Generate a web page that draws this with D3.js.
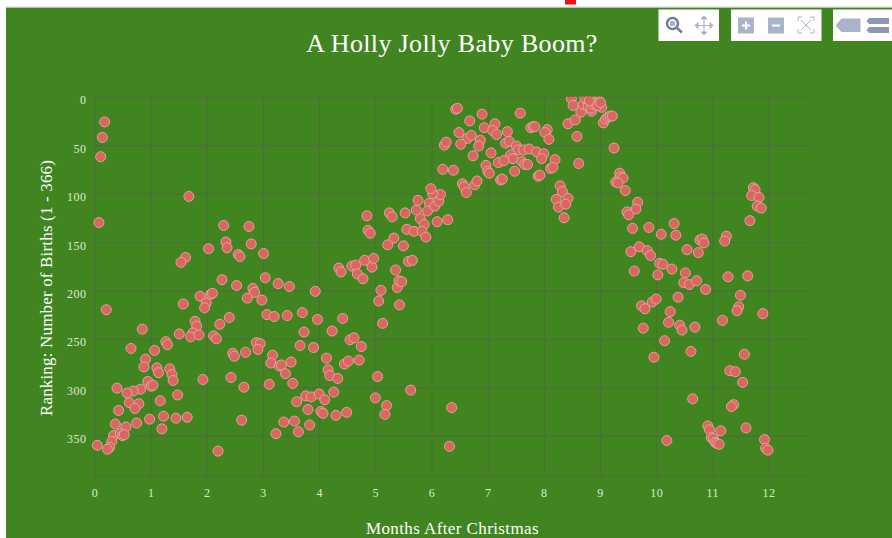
<!DOCTYPE html>
<html>
<head>
<meta charset="utf-8">
<script src="https://cdn.jsdelivr.net/npm/d3@7"></script>
<style>
	html, body { margin: 0; padding: 0; background: #fff; overflow: hidden; }
	text { font-family: "Liberation Serif", serif; }
</style>
</head>
<body>
<div id="chart"></div>
<script>
	var width = 892;
	var height = 538;

	var chartTitle = "A Holly Jolly Baby Boom?";
	var xTitle = "Months After Christmas";
	var yTitle = "Ranking: Number of Births (1 - 366)";

	var xTicks = [0,1,2,3,4,5,6,7,8,9,10,11,12];
	var yTicks = [0,50,100,150,200,250,300,350];

	// same order in both arrays
	var months = [
		.18,.14,.11,.08,1.68,2.30,2.75,2.34,2.36,2.79,2.03,2.56,2.59,3.01,1.62,1.54,2.27,2.53,3.04,3.27,
		3.47,2.82,2.85,2.72,2.98,1.88,2.07,2.10,1.99,1.96,1.58,.21,3.07,3.20,3.43,3.70,2.40,2.23,1.79,1.82,
		.85,1.75,1.71,1.86,1.51,2.12,2.17,1.27,1.30,.65,1.07,2.88,2.95,2.91,2.69,2.46,2.49,3.17,3.14,3.29,
		3.33,3.50,3.40,.91,.88,1.11,1.14,1.34,1.38,1.40,1.93,2.43,.95,1.01,1.04,.82,.69,.58,.40,1.48,
		2.66,3.11,3.53,1.17,.62,.79,.72,.43,3.60,1.45,1.65,1.23,.98,2.62,.37,.75,.56,1.20,3.37,3.56,
		3.23,3.63,.34,.46,.50,.53,.31,.27,.23,.05,2.20,
		3.93,4.35,4.39,4.58,4.65,4.68,4.78,4.94,4.81,5.36,5.10,5.06,5.39,5.42,5.43,3.97,4.42,5.13,3.73,4.23,
		3.66,3.90,4.55,4.62,4.75,4.13,4.45,4.52,4.71,4.16,4.19,4.33,5.04,3.76,3.86,4.00,4.10,4.26,5.00,5.20,
		5.17,3.80,4.03,4.07,4.30,4.49,3.83,5.63,6.36,6.32,
		4.85,4.87,4.91,5.25,5.30,5.53,5.73,5.76,5.96,5.93,6.06,6.13,6.16,6.02,5.99,5.80,5.87,5.56,5.69,5.83,
		5.90,6.10,6.29,5.33,5.22,5.50,5.59,5.66,4.97,5.47,
		6.43,6.46,6.90,7.58,6.68,7.13,6.94,7.09,7.16,6.49,7.35,7.77,7.81,7.84,8.06,8.02,8.09,8.43,6.64,6.71,
		6.87,6.84,6.52,6.23,6.26,6.74,7.06,7.32,7.38,7.51,7.54,7.64,7.74,7.87,8.00,7.96,7.41,7.45,7.61,7.66,
		7.71,7.19,7.29,8.20,8.12,8.16,7.48,6.20,6.39,6.97,7.00,7.03,7.23,7.26,7.90,7.93,6.55,6.58,6.62,6.77,
		6.81,8.29,8.33,8.22,8.26,8.43,8.39,8.36,
		8.49,8.52,8.66,8.56,8.59,8.70,8.76,8.79,8.85,8.84,8.88,8.94,8.98,9.03,8.92,9.06,9.10,9.14,9.18,9.22,
		9.25,8.62,8.73,8.81,8.96,9.01,
		9.35,9.36,9.41,9.28,9.32,9.45,9.67,9.64,9.48,9.51,9.58,9.87,10.09,10.32,10.35,10.78,10.82,10.85,11.25,11.22,
		10.55,10.75,11.73,11.76,11.70,11.83,11.80,11.87,11.67,9.55,9.70,9.84,9.90,10.06,10.12,10.28,9.61,10.03,10.52,11.28,
		11.63,10.49,10.59,10.72,10.88,11.50,10.39,9.74,9.80,9.93,10.00,11.47,11.44,11.90,10.25,11.18,10.22,10.42,10.46,10.69,
		9.77,10.15,10.62,11.57,9.96,11.31,11.41,11.54,10.65,11.38,11.34,10.92,10.95,11.15,11.60,10.19,10.98,11.02,11.05,11.08,
		11.12,11.93,11.95,11.99
	];
	var ranks = [
		26,42,62,130,103,133,134,150,156,152,157,163,165,162,166,171,189,195,187,193,
		196,198,202,208,210,206,204,203,213,218,214,220,225,227,226,223,228,235,232,237,
		240,244,248,246,245,247,250,253,256,260,262,254,255,261,264,265,268,267,275,278,
		277,274,286,271,279,280,285,281,287,293,292,290,294,299,298,302,304,306,301,308,
		300,297,296,314,316,317,322,324,315,332,331,330,333,334,338,337,341,343,336,335,
		348,346,350,348,350,349,356,362,364,360,366,
		201,177,181,175,174,183,188,176,169,179,200,211,197,190,215,230,229,234,243,242,
		257,259,251,249,258,270,276,273,272,282,288,291,289,309,310,307,313,305,311,319,
		328,323,325,327,329,326,339,303,321,361,
		123,138,141,120,124,120,117,107,110,118,113,108,101,100,95,126,132,137,139,139,
		145,129,127,146,153,154,170,169,167,191,
		13,12,18,17,25,28,32,35,39,37,36,32,31,31,34,37,44,28,43,40,
		45,51,49,50,47,61,58,48,46,51,55,55,54,57,59,64,60,64,67,70,
		70,68,66,65,74,73,77,75,76,71,77,79,86,85,82,81,90,93,99,91,
		87,92,98,106,114,105,111,125,
		2,9,16,24,41,8,3,10,15,12,8,4,4,11,7,27,23,21,20,20,
		53,69,1,4,9,6,
		79,83,84,88,89,97,109,116,119,122,136,135,142,131,143,148,147,151,144,149,
		158,161,94,96,102,104,113,115,128,160,155,159,164,172,173,178,180,184,182,186,
		185,192,194,190,199,205,207,216,219,212,209,217,221,224,222,231,233,236,241,238,
		239,252,263,266,269,283,284,295,312,318,320,340,344,345,342,355,352,353,357,358,
		359,354,363,365
	];

	var margin = {left: 94.5, right: 809.5, top: 96.7, bottom: 476.3};

	var xScale = d3.scaleLinear().domain([0, 12.73]).range([margin.left, margin.right]);
	var yScale = d3.scaleLinear().domain([0, 392]).range([margin.top, margin.bottom]);

	var svg = d3.select("#chart")
		.append("svg")
		.attr("width", width)
		.attr("height", height)
		.style("display", "block");

	svg.append("rect")
		.attr("width", width)
		.attr("height", height)
		.attr("fill", "#fff");

	// red bit of something above the plot
	svg.append("rect")
		.attr("x", 565).attr("y", 0)
		.attr("width", 11).attr("height", 4.5)
		.attr("fill", "#e8141c");

	svg.append("rect")
		.attr("x", 6).attr("y", 7.5)
		.attr("width", width - 6).attr("height", height - 7.5)
		.attr("fill", "#418521");
	svg.append("line")
		.attr("x1", 6).attr("x2", width)
		.attr("y1", 7.2).attr("y2", 7.2)
		.attr("stroke", "#bdbdbd");

	var gridColor = "#4f6d38";

	var xAxis = d3.axisBottom(xScale)
		.tickValues(xTicks)
		.tickSize(-(margin.bottom - margin.top))
		.tickPadding(12);
	var yAxis = d3.axisLeft(yScale)
		.tickValues(yTicks)
		.tickSize(-(margin.right - margin.left))
		.tickPadding(8);

	var xG = svg.append("g")
		.attr("transform", "translate(0," + margin.bottom + ")")
		.call(xAxis);
	var yG = svg.append("g")
		.attr("transform", "translate(" + margin.left + ",0)")
		.call(yAxis);

	svg.selectAll(".domain").remove();
	svg.selectAll(".tick line").attr("stroke", gridColor).attr("stroke-width", 1.1);
	svg.selectAll(".tick text")
		.attr("fill", "#dfe9d8")
		.attr("font-size", 12)
		.style("letter-spacing", "0.5px")
		.style("font-family", '"Liberation Serif", serif');
	yG.selectAll(".tick text").attr("dy", "0.6em");

	svg.append("line")
		.attr("x1", margin.left).attr("x2", margin.right)
		.attr("y1", margin.bottom).attr("y2", margin.bottom)
		.attr("stroke", gridColor)
		.attr("stroke-width", 1.1);

	svg.append("clipPath").attr("id", "plotClip")
		.append("rect")
		.attr("x", margin.left - 6)
		.attr("y", margin.top)
		.attr("width", margin.right - margin.left + 6)
		.attr("height", margin.bottom - margin.top);

	svg.append("g")
		.attr("clip-path", "url(#plotClip)")
		.selectAll("circle")
		.data(months)
		.enter()
		.append("circle")
		.attr("cx", function(d){ return xScale(d); })
		.attr("cy", function(d, i){ return yScale(ranks[i]); })
		.attr("r", 5)
		.attr("fill", "#db6660")
		.attr("stroke", "#e0a59e")
		.attr("stroke-width", 1);

	svg.append("text")
		.attr("x", 452)
		.attr("y", 52)
		.attr("text-anchor", "middle")
		.attr("fill", "#fff")
		.attr("font-size", 26)
		.style("letter-spacing", "0.35px")
		.text(chartTitle);

	svg.append("text")
		.attr("x", 452.5)
		.attr("y", 534)
		.attr("text-anchor", "middle")
		.attr("fill", "#fff")
		.attr("font-size", 17)
		.style("letter-spacing", "0.4px")
		.text(xTitle);

	svg.append("text")
		.attr("transform", "translate(52,288) rotate(-90)")
		.attr("text-anchor", "middle")
		.attr("fill", "#fff")
		.attr("font-size", 17)
		.style("letter-spacing", "0.17px")
		.text(yTitle);

	// modebar
	var bar = svg.append("g");
	[[658.5, 60.5], [731, 90.5], [833, 59]].forEach(function(b){
		bar.append("rect")
			.attr("x", b[0]).attr("y", 9.5)
			.attr("width", b[1]).attr("height", 31.5)
			.attr("fill", "#fff");
	});
	var iconDark = "#6f7d9e";
	var iconLight = "#a9b4ca";

	bar.append("circle").attr("cx", 672.5).attr("cy", 23.5).attr("r", 5.5)
		.attr("fill", "none").attr("stroke", iconDark).attr("stroke-width", 2.5);
	bar.append("rect").attr("x", 670).attr("y", 21).attr("width", 5).attr("height", 5).attr("fill", iconLight);
	bar.append("line").attr("x1", 677).attr("y1", 28).attr("x2", 682).attr("y2", 32.5)
		.attr("stroke", iconDark).attr("stroke-width", 2.5);

	bar.append("path")
		.attr("d", "M704 17v17M695.5 25.5h17M704 16l-3 3h6zM704 35l-3-3h6zM695 25.5l3-3v6zM713 25.5l-3-3v6z")
		.attr("stroke", iconLight).attr("stroke-width", 1).attr("fill", iconLight);

	bar.append("rect").attr("x", 738).attr("y", 17.5).attr("width", 16).attr("height", 16).attr("fill", iconLight);
	bar.append("path").attr("d", "M746 21.5v8M742 25.5h8").attr("stroke", "#fff").attr("stroke-width", 2);
	bar.append("rect").attr("x", 768).attr("y", 17.5).attr("width", 16).attr("height", 16).attr("fill", iconLight);
	bar.append("path").attr("d", "M772 25.5h8").attr("stroke", "#fff").attr("stroke-width", 2);

	bar.append("path")
		.attr("d", "M798 21v-4h4M810 17h4v4M798 29v4h4M810 33h4v-4M801 20l10 10M811 20l-10 10")
		.attr("fill", "none").attr("stroke", iconLight).attr("stroke-width", 1);

	bar.append("path").attr("d", "M835.5 25.5l6-7h19v13.5h-19z").attr("fill", iconLight);
	bar.append("path").attr("d", "M869 18h20v6h-20l-2.5-3zM869 27h20v6h-20l-2.5-3z").attr("fill", "#8d98b5");
</script>
</body>
</html>
